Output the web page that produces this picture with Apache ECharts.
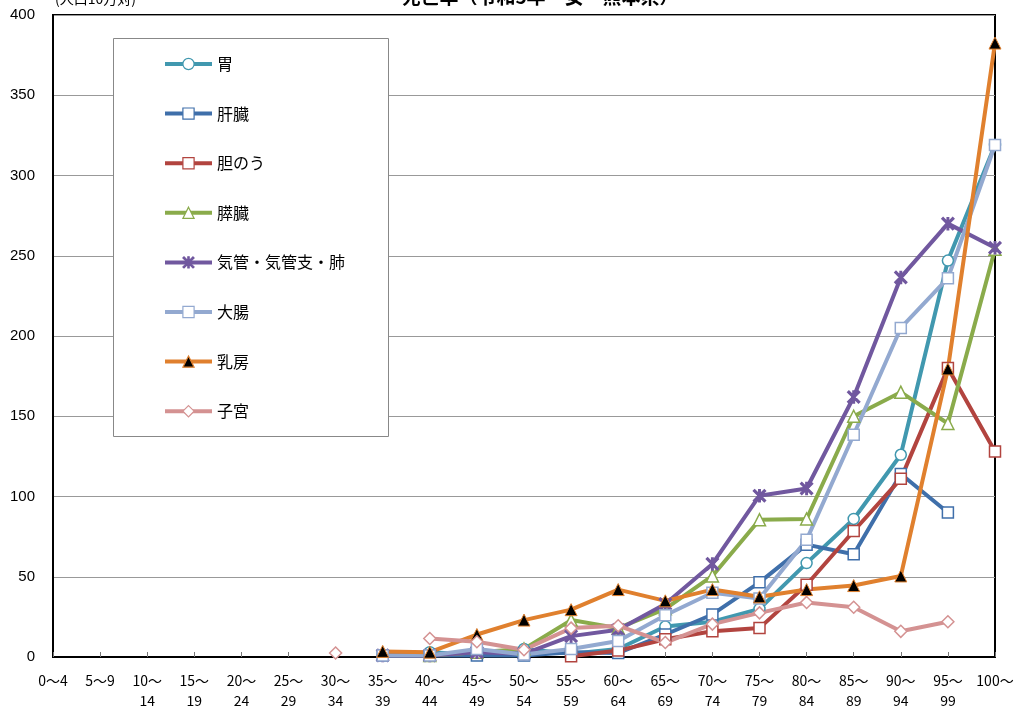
<!DOCTYPE html>
<html>
<head>
<meta charset="utf-8">
<script src="https://cdn.jsdelivr.net/npm/echarts@6/dist/echarts.min.js"></script>
<style>
html,body{margin:0;padding:0;background:#fff;}
#chart{width:1019px;height:711px;}
</style>
</head>
<body>
<div id="chart"></div>
<script>
const categories = ['0～4','5～9','10～\n14','15～\n19','20～\n24','25～\n29','30～\n34','35～\n39','40～\n44','45～\n49','50～\n54','55～\n59','60～\n64','65～\n69','70～\n74','75～\n79','80～\n84','85～\n89','90～\n94','95～\n99','100～'];
const yTicks = [0, 50, 100, 150, 200, 250, 300, 350, 400];
const seriesNames = ['胃','肝臓','胆のう','膵臓','気管・気管支・肺','大腸','乳房','子宮'];
const stomach  = [null,null,null,null,null,null,null, 1, 3, 1.4, 5, 2, 5, 19, 22, 30, 58.5, 86, 126, 247, 319];
const liver    = [null,null,null,null,null,null,null, 1, 1, 1, 1, 3, 2.5, 14, 26.5, 46.5, 70, 64, 114, 90, null];
const gallbl   = [null,null,null,null,null,null,null, null, null, null, null, 0.5, 4, 11, 16, 18, 45, 78.5, 111, 180, 128];
const pancreas = [null,null,null,null,null,null,null, null, 1, 3, 5, 23, 18, 30, 50.5, 85.5, 86, 150, 165, 145.5, 254];
const lung     = [null,null,null,null,null,null,null, 1, 1, 3, 2, 13, 17, 33, 58, 100.5, 105, 162, 236.5, 270, 255];
const colon    = [null,null,null,null,null,null,null, 1, 1, 5, 1.5, 5, 10, 26, 40, 36.5, 73, 138.5, 205, 236, 319];
const breast   = [null,null,null,null,null,null,null, 3.5, 3, 14, 23, 29.5, 42, 35, 42, 37.5, 42, 44.5, 50.5, 179.5, 382.5];
const uterus   = [null,null,null,null,null,null, 2.5, null, 11.5, 9.5, 4.5, 18, 19.5, 9, 20.5, 27.5, 34, 31, 16, 22, null];

const colors = ['#4198AF','#3F6FAA','#B2443F','#8AAB4B','#71589F','#93A9D0','#E0802E','#D49292'];
const dataSets = [stomach, liver, gallbl, pancreas, lung, colon, breast, uterus];
const asterisk = 'path://M0 1L1 0L10 9L9 10Z M9 0L10 1L1 10L0 9Z M4.4 0L5.6 0L5.6 10L4.4 10Z';
const symbols = ['circle','rect','rect','triangle',asterisk,'rect','triangle','diamond'];
const symSizes = [11,11,11,12,12,11,12,12];

const series = seriesNames.map((name, i) => {
  const isBreast = i === 6;
  const isLung = i === 4;
  return {
    name: name,
    type: 'line',
    data: dataSets[i],
    connectNulls: false,
    symbol: symbols[i],
    symbolSize: symSizes[i],
    showSymbol: true,
    lineStyle: { color: colors[i], width: 4 },
    itemStyle: {
      color: isBreast ? '#000' : (isLung ? colors[i] : '#fff'),
      borderColor: colors[i],
      borderWidth: isBreast ? 1 : 1.5
    },
    emphasis: { disabled: true },
    animation: false
  };
});

const chart = echarts.init(document.getElementById('chart'));
chart.setOption({
  animation: false,
  textStyle: { fontFamily: '"Noto Sans CJK JP", "Liberation Sans", sans-serif' },
  grid: { left: 53, right: 24, top: 15, bottom: 52, show: true, borderColor: '#000', borderWidth: 2, backgroundColor: 'transparent' },
  xAxis: {
    type: 'category',
    data: categories,
    boundaryGap: false,
    axisLine: { show: true, lineStyle: { color: '#000', width: 2 } },
    axisTick: { show: true, inside: true, length: 5, alignWithLabel: true, lineStyle: { color: '#777' } },
    axisLabel: { interval: 0, color: '#000', fontSize: 14, lineHeight: 20, margin: 14,
      fontFamily: '"Noto Sans CJK JP", sans-serif' },
    splitLine: { show: false }
  },
  yAxis: {
    type: 'value',
    min: yTicks[0], max: yTicks[yTicks.length - 1], interval: 50,
    axisLine: { show: true, lineStyle: { color: '#000', width: 2 } },
    axisTick: { show: false },
    axisLabel: { color: '#000', fontSize: 15, margin: 18, fontFamily: '"Liberation Sans Narrow", "Liberation Sans", sans-serif' },
    splitLine: { show: true, lineStyle: { color: '#999', width: 1 } }
  },
  legend: {
    orient: 'vertical',
    left: 163, top: 56,
    padding: 0,
    itemWidth: 47, itemHeight: 14,
    itemGap: 33.6,
    itemStyle: { borderWidth: 1.2 },
    lineStyle: { width: 4 },
    textStyle: { fontSize: 16, color: '#000', fontFamily: '"Noto Sans CJK JP", sans-serif' },
    data: seriesNames,
    z: 10
  },
  graphic: [
    { type: 'rect', shape: { x: 113.5, y: 38.5, width: 275, height: 398 }, style: { fill: '#fff', stroke: '#888', lineWidth: 1 }, z: 5 },
    { type: 'text', x: 540, y: 6, style: { text: '死亡率（令和5年・女・熊本県）', font: 'bold 19px "Noto Sans CJK JP", sans-serif', fill: '#000', align: 'center', verticalAlign: 'bottom', textAlign: 'center', textVerticalAlign: 'bottom' }, z: 10 },
    { type: 'text', x: 55, y: 6, style: { text: '(人口10万対)', font: '14px "Noto Sans CJK JP", sans-serif', fill: '#000', align: 'left', verticalAlign: 'bottom', textAlign: 'left', textVerticalAlign: 'bottom' }, z: 10 }
  ],
  series: series
});
</script>
</body>
</html>
